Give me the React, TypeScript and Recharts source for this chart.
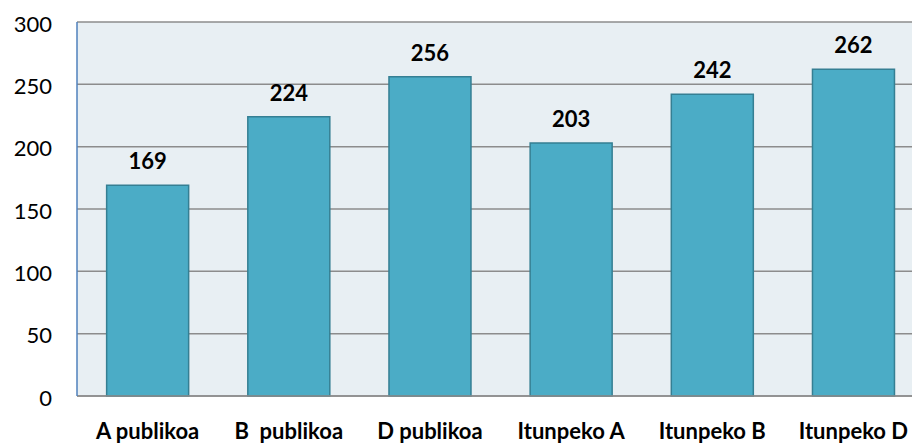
import { BarChart, Bar, XAxis, YAxis, CartesianGrid, LabelList } from "recharts";

const CATEGORIES = ["A publikoa", "B\u00a0 publikoa", "D publikoa", "Itunpeko A", "Itunpeko B", "Itunpeko D"];
const VALUES = [169, 224, 256, 203, 242, 262];
const Y_TICKS = [0, 50, 100, 150, 200, 250, 300];

const FONT = "Lato, 'Open Sans', sans-serif";
const BAR_FILL = "#4BACC6";
const BAR_STROKE = "#357F93";

export default function App() {
  const data = CATEGORIES.map((name, i) => ({ name, value: VALUES[i] }));

  return (
    <div style={{ position: "absolute", left: 0, top: 0, width: 912, height: 443, overflow: "hidden", background: "#fff" }}>
      <BarChart
        width={930}
        height={443}
        data={data}
        margin={{ top: 22, right: 6, left: 0, bottom: 0 }}
        barCategoryGap="21%"
      >
        <CartesianGrid vertical={false} stroke="#8C8C8C" strokeWidth={1.5} fill="#E8EFF3" />
        <XAxis
          dataKey="name"
          height={47}
          tickSize={0}
          tickMargin={27}
          axisLine={{ stroke: "#8C8C8C", strokeWidth: 1.5 }}
          tick={{ fontSize: 22, fontWeight: 700, fill: "#000", fontFamily: FONT }}
          interval={0}
        />
        <YAxis
          width={77}
          domain={[0, 300]}
          ticks={Y_TICKS}
          tickSize={0}
          tickMargin={25}
          axisLine={{ stroke: "#4F81BD", strokeWidth: 1.5 }}
          tick={{ fontSize: 22, fill: "#000", fontFamily: FONT, dy: 2 }}
        />
        <Bar dataKey="value" fill={BAR_FILL} stroke={BAR_STROKE} strokeWidth={1.5} isAnimationActive={false}>
          <LabelList
            dataKey="value"
            position="top"
            offset={16}
            style={{ fontSize: 22, fontWeight: 700, fill: "#000", fontFamily: FONT }}
          />
        </Bar>
      </BarChart>
    </div>
  );
}
